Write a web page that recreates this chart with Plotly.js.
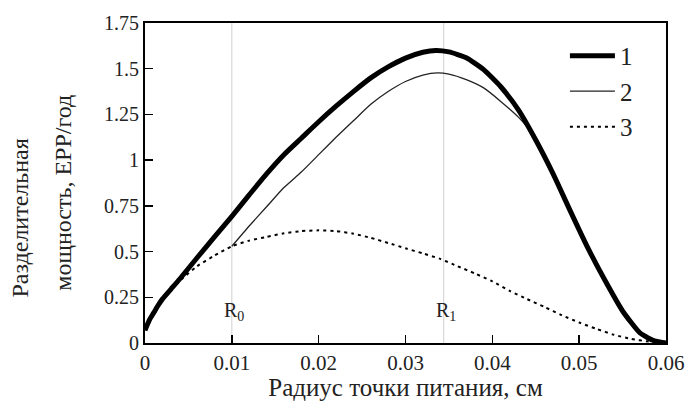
<!DOCTYPE html>
<html>
<head>
<meta charset="utf-8">
<script src="https://cdn.plot.ly/plotly-3.0.1.min.js"></script>
<style>html,body{margin:0;padding:0;background:#fff;}#chart{width:690px;height:401px;}</style>
</head>
<body>
<div id="chart"></div>
<script>
// Curve 1 (thick)
const x1 = [0, 0.0005, 0.001, 0.0015, 0.002, 0.003, 0.004, 0.006, 0.008, 0.010, 0.012, 0.014, 0.016, 0.018, 0.020, 0.022, 0.024, 0.026, 0.028, 0.030, 0.032, 0.0335, 0.035, 0.037, 0.039, 0.041, 0.043, 0.045, 0.047, 0.049, 0.051, 0.053, 0.055, 0.057, 0.0585, 0.060];
const y1 = [0.07, 0.125, 0.165, 0.205, 0.24, 0.295, 0.35, 0.466, 0.58, 0.693, 0.81, 0.925, 1.03, 1.12, 1.21, 1.295, 1.375, 1.45, 1.51, 1.558, 1.59, 1.60, 1.592, 1.56, 1.495, 1.40, 1.275, 1.11, 0.925, 0.72, 0.52, 0.34, 0.175, 0.055, 0.015, 0.0];
// Curve 2 (thin)
const x2 = [0.010, 0.012, 0.014, 0.016, 0.018, 0.020, 0.022, 0.024, 0.026, 0.028, 0.030, 0.032, 0.0337, 0.035, 0.037, 0.039, 0.041, 0.043, 0.0445, 0.047, 0.049, 0.051, 0.053, 0.055, 0.057, 0.0585, 0.060];
const y2 = [0.529, 0.64, 0.745, 0.85, 0.935, 1.03, 1.125, 1.215, 1.305, 1.375, 1.43, 1.465, 1.477, 1.47, 1.44, 1.395, 1.32, 1.235, 1.15, 0.925, 0.72, 0.52, 0.34, 0.175, 0.055, 0.015, 0.0];
// Curve 3 (dotted)
const x3 = [0, 0.0005, 0.001, 0.0015, 0.002, 0.003, 0.004, 0.006, 0.008, 0.010, 0.012, 0.014, 0.016, 0.018, 0.020, 0.022, 0.024, 0.026, 0.028, 0.030, 0.032, 0.034, 0.036, 0.038, 0.040, 0.042, 0.044, 0.046, 0.048, 0.050, 0.052, 0.054, 0.056, 0.058, 0.060];
const y3 = [0.07, 0.125, 0.165, 0.205, 0.24, 0.29, 0.34, 0.42, 0.478, 0.529, 0.56, 0.58, 0.60, 0.612, 0.616, 0.612, 0.598, 0.575, 0.547, 0.518, 0.49, 0.46, 0.42, 0.38, 0.337, 0.285, 0.24, 0.197, 0.152, 0.112, 0.077, 0.045, 0.022, 0.008, 0.0];
const seriesNames = ["1", "2", "3"];
// Marker radii
const markerX = [0.01, 0.0344];
const markerLabels = ["R<sub>0</sub>", "R<sub>1</sub>"];
const markerLabelY = 0.17;
const xTitle = "Радиус точки питания, см";
const yTitleLines = ["Разделительная", "мощность, ЕРР/год"];

const serif = "Liberation Serif";

const data = [
  {x: x3, y: y3, name: seriesNames[2], legendrank: 3, mode: "lines", line: {color: "#000", width: 2, dash: "3px,4px", shape: "spline", smoothing: 0.5}},
  {x: x2, y: y2, name: seriesNames[1], legendrank: 2, mode: "lines", line: {color: "#222", width: 1.3, shape: "spline", smoothing: 0.5}},
  {x: x1, y: y1, name: seriesNames[0], legendrank: 1, mode: "lines", line: {color: "#000", width: 5, shape: "spline", smoothing: 0.5}}
];

const shapes = markerX.map(v => ({type: "line", xref: "x", yref: "paper", x0: v, x1: v, y0: 0, y1: 1, line: {color: "#d0d0d0", width: 1}, layer: "below"}));

const annotations = markerX.map((v, i) => ({x: v, y: markerLabelY, xref: "x", yref: "y", text: markerLabels[i], showarrow: false, font: {family: serif, size: 20, color: "#222"}, xanchor: "center", yanchor: "middle", xshift: 2}));
annotations.push({xref: "paper", yref: "paper", x: -0.240, y: 0.392, text: yTitleLines[0], textangle: -90, showarrow: false, font: {family: serif, size: 24, color: "#222"}, xanchor: "center", yanchor: "middle"});
annotations.push({xref: "paper", yref: "paper", x: -0.159, y: 0.470, text: yTitleLines[1], textangle: -90, showarrow: false, font: {family: serif, size: 24, color: "#222"}, xanchor: "center", yanchor: "middle"});

const layout = {
  width: 690, height: 401,
  margin: {l: 145, r: 24, t: 23, b: 58},
  paper_bgcolor: "#fff", plot_bgcolor: "#fff",
  font: {family: serif, color: "#222"},
  showlegend: true,
  legend: {x: 0.806, y: 0.969, xanchor: "left", yanchor: "top", bgcolor: "rgba(0,0,0,0)", borderwidth: 0, itemwidth: 45, font: {family: serif, size: 25, color: "#222"}, tracegroupgap: 0},
  xaxis: {
    range: [0, 0.06], dtick: 0.01, tick0: 0,
    showline: true, linecolor: "#000", linewidth: 2, mirror: true,
    ticks: "inside", ticklen: 8, tickwidth: 1.5, tickcolor: "#000",
    showgrid: false, zeroline: false,
    tickfont: {family: serif, size: 21, color: "#222"},
    title: {text: xTitle, font: {family: serif, size: 25, color: "#222"}, standoff: 11},
    automargin: false
  },
  yaxis: {
    range: [0, 1.75], dtick: 0.25, tick0: 0,
    showline: true, linecolor: "#000", linewidth: 2, mirror: true,
    ticks: "inside", ticklen: 8, tickwidth: 1.5, tickcolor: "#000",
    showgrid: false, zeroline: false,
    tickfont: {family: serif, size: 20, color: "#222"},
    automargin: false
  },
  shapes: shapes,
  annotations: annotations
};

Plotly.newPlot("chart", data, layout, {staticPlot: true, displayModeBar: false});
</script>
</body>
</html>
